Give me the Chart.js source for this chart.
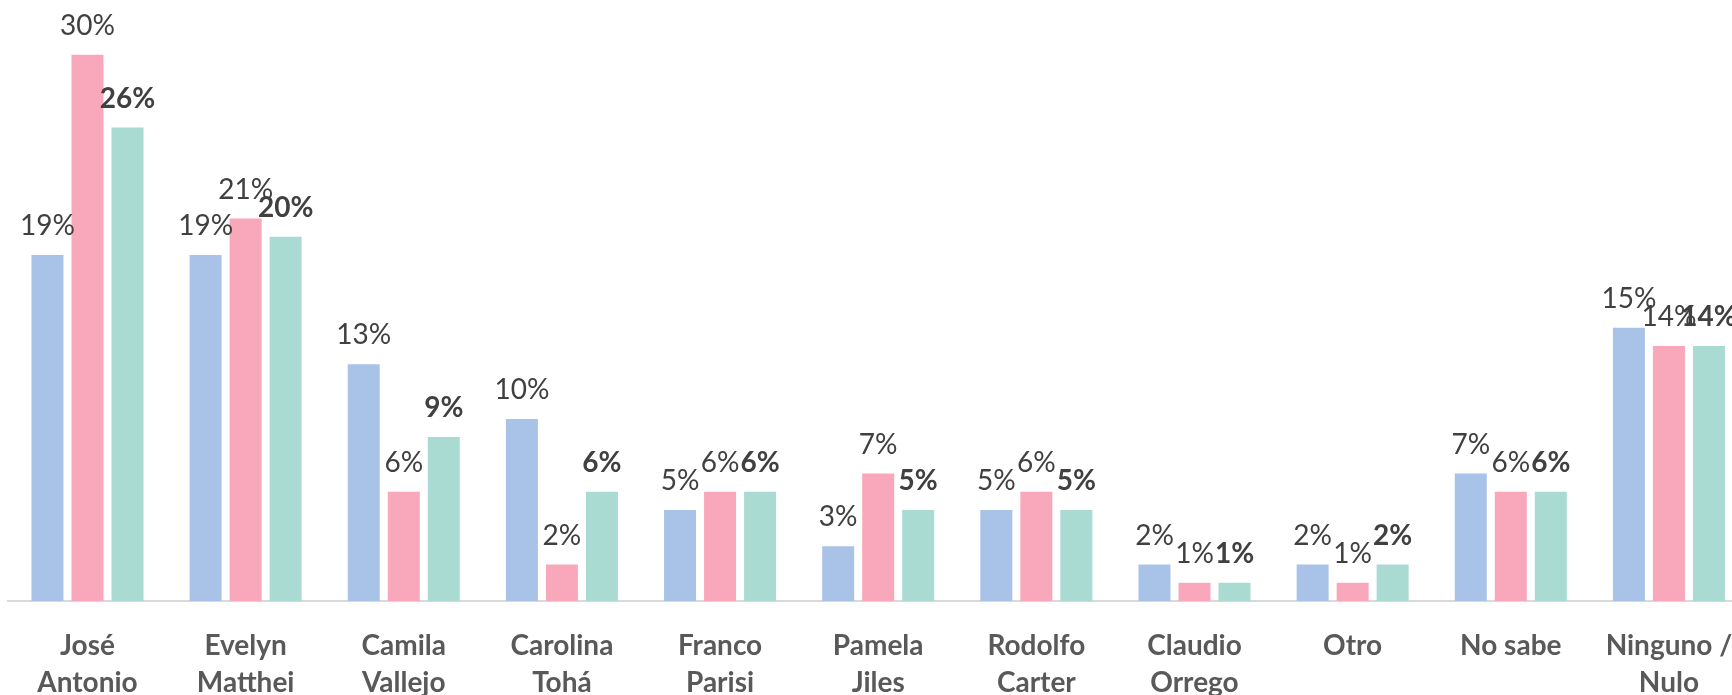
<!DOCTYPE html>
<html>
<head>
<meta charset="utf-8">
<script src="https://cdn.jsdelivr.net/npm/chart.js@4/dist/chart.umd.min.js"></script>
<style>
  html, body { margin: 0; padding: 0; background: #ffffff; overflow: hidden; }
  #wrap { position: absolute; left: 0; top: 0; width: 1752px; height: 695px; }
</style>
</head>
<body>
<div id="wrap"><canvas id="c" width="1752" height="695"></canvas></div>
<script>
const categories = [
  ["José", "Antonio"], ["Evelyn", "Matthei"], ["Camila", "Vallejo"], ["Carolina", "Tohá"],
  ["Franco", "Parisi"], ["Pamela", "Jiles"], ["Rodolfo", "Carter"], ["Claudio", "Orrego"],
  ["Otro"], ["No sabe"], ["Ninguno /", "Nulo"]
];
const seriesA = [19, 19, 13, 10, 5, 3, 5, 2, 2, 7, 15];
const seriesB = [30, 21, 6, 2, 6, 7, 6, 1, 1, 6, 14];
const seriesC = [26, 20, 9, 6, 6, 5, 5, 1, 2, 6, 14];
const seriesBold = [false, false, true];

const labelPlugin = {
  id: 'barLabels',
  afterDatasetsDraw(chart) {
    const ctx = chart.ctx;
    chart.data.datasets.forEach((ds, di) => {
      const meta = chart.getDatasetMeta(di);
      ctx.save();
      ctx.font = (seriesBold[di] ? 'bold ' : '') + '28px Lato';
      ctx.fillStyle = '#404040';
      ctx.textAlign = 'center';
      ctx.textBaseline = 'middle';
      meta.data.forEach((bar, i) => {
        ctx.fillText(ds.data[i] + '%', bar.x, bar.y - 29);
      });
      ctx.restore();
    });
  }
};

new Chart(document.getElementById('c'), {
  type: 'bar',
  data: {
    labels: categories,
    datasets: [
      { data: seriesA, backgroundColor: '#A9C2E8' },
      { data: seriesB, backgroundColor: '#F8A8BA' },
      { data: seriesC, backgroundColor: '#A9DBD3' }
    ]
  },
  options: {
    responsive: false,
    animation: false,
    events: [],
    layout: { padding: { left: 8.4, right: 4, top: 0, bottom: 0 } },
    categoryPercentage: 0.759,
    barPercentage: 0.8,
    plugins: { legend: { display: false }, tooltip: { enabled: false } },
    scales: {
      x: {
        grid: { display: true, drawOnChartArea: false, drawTicks: true, tickLength: 26, color: 'rgba(0,0,0,0)' },
        border: { display: true, color: '#D9D9D9', width: 2 },
        ticks: {
          color: '#595959',
          font: { family: 'Lato', size: 28, weight: 'bold', lineHeight: 1.34 },
          padding: 0,
          maxRotation: 0,
          autoSkip: false
        },
        afterFit(scale) { scale.height = 94; }
      },
      y: {
        display: false,
        min: 0,
        max: 33
      }
    }
  },
  plugins: [labelPlugin]
});
</script>
</body>
</html>
